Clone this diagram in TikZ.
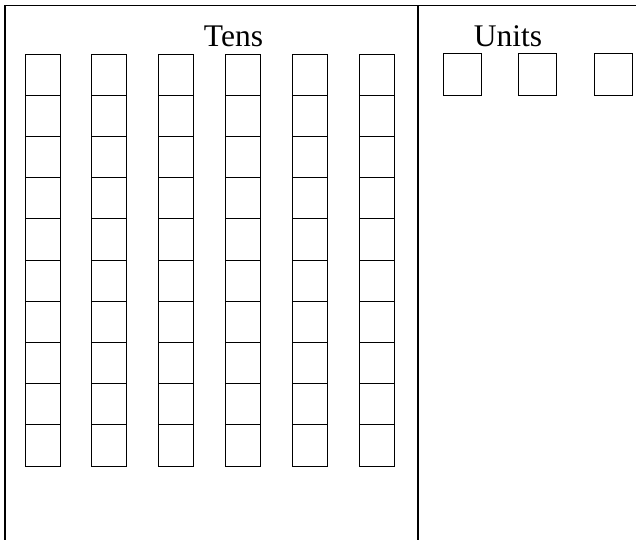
\documentclass[tikz,border=0pt]{standalone}
\usepackage{fontspec}
\setmainfont{Liberation Serif}
\begin{document}
\begin{tikzpicture}[x=1pt,y=-1pt,
  cell/.style={draw=black,line width=0.9pt},
  border/.style={draw=black,line width=1.8pt},
  lbl/.style={font=\fontsize{31.5}{31.5}\selectfont,anchor=base,inner sep=0pt}]
\useasboundingbox (0,0) rectangle (636,540);
% borders
\coordinate (tl) at (5,5.5);
\coordinate (tr) at (636,5.5);
\coordinate (bl) at (5,540);
\coordinate (mt) at (418,5.5);
\coordinate (mb) at (418,540);
\draw[border] (tr) -- (tl) -- (bl);
\draw[border] (mt) -- (mb);
% labels
\node[lbl] (tens) at (233.5,46.7) {Tens};
\node[lbl] (units) at (508,46.7) {Units};
% tens columns
\foreach \c in {0,...,5}{
  \foreach \r in {0,...,9}{
    \draw[cell] ({25+66.8*\c},{54+41.2*\r}) rectangle ++(35,41.2);
  }
}
% units boxes
\foreach \x in {443.5,518.5,594.5}{
  \draw[cell] (\x,53.5) rectangle ++(38.3,42.2);
}
\end{tikzpicture}
\end{document}
